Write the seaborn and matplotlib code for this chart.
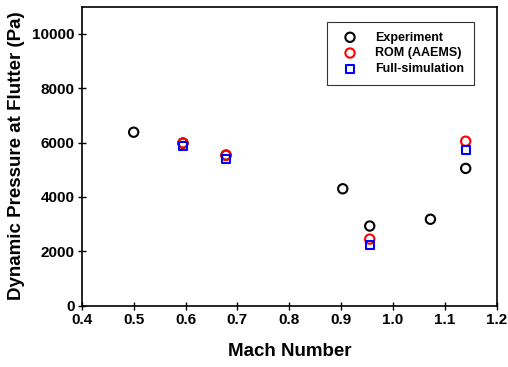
import matplotlib
matplotlib.use("Agg")
import matplotlib.pyplot as plt
import seaborn as sns
import pandas as pd

exp_mach = [0.5, 0.595, 0.678, 0.903, 0.955, 1.072, 1.14]
exp_q = [6380, 5980, 5540, 4300, 2930, 3180, 5050]
rom_mach = [0.595, 0.678, 0.955, 1.14]
rom_q = [5980, 5530, 2450, 6050]
full_mach = [0.595, 0.678, 0.955, 1.14]
full_q = [5870, 5410, 2230, 5720]

sns.set_style("ticks")
plt.rcParams['font.family'] = ['Liberation Sans', 'DejaVu Sans']
plt.rcParams['font.weight'] = 'bold'
plt.rcParams['text.color'] = 'black'
plt.rcParams['axes.labelcolor'] = 'black'
plt.rcParams['xtick.color'] = 'black'
plt.rcParams['ytick.color'] = 'black'

fig = plt.figure(figsize=(5.08, 3.67), dpi=100)
ax = fig.add_axes([0.161, 0.167, 0.817, 0.815])

common = dict(s=45, linewidth=1.5, ax=ax)
sns.scatterplot(x=exp_mach, y=exp_q, marker='o', facecolor='none', edgecolor='black',
                label='Experiment', zorder=3, **common)
sns.scatterplot(x=rom_mach, y=rom_q, marker='o', facecolor='none', edgecolor='red',
                label='ROM (AAEMS)', zorder=4, **common)
sns.scatterplot(x=full_mach, y=full_q, marker='s', facecolor='none', edgecolor='blue',
                label='Full-simulation', zorder=5, s=34, linewidth=1.5, ax=ax)

ax.set_xlim(0.4, 1.2)
ax.set_ylim(0, 11000)
ax.set_xticks([0.4, 0.5, 0.6, 0.7, 0.8, 0.9, 1.0, 1.1, 1.2])
ax.set_xticklabels(['0.4', '0.5', '0.6', '0.7', '0.8', '0.9', '1.0', '1.1', '1.2'])
ax.set_yticks([0, 2000, 4000, 6000, 8000, 10000])
ax.tick_params(direction='inout', length=6, width=1, labelsize=11, color='black',
               labelcolor='black', pad=2)
for lab in ax.get_xticklabels() + ax.get_yticklabels():
    lab.set_fontweight('bold')
for sp in ax.spines.values():
    sp.set_linewidth(1.2)
    sp.set_color('black')
ax.set_xlabel('Mach Number', fontsize=13.5, fontweight='bold', labelpad=12, color='black')
ax.set_ylabel('Dynamic Pressure at Flutter (Pa)', fontsize=13.5, fontweight='bold', labelpad=5,
              color='black')

leg = ax.legend(loc='upper right', bbox_to_anchor=(0.945, 0.95), frameon=True, fancybox=False,
                edgecolor='black', fontsize=9, borderpad=0.8, handletextpad=1.0, handlelength=2.0,
                labelspacing=0.3, borderaxespad=0)
leg.get_frame().set_linewidth(0.8)
for t in leg.get_texts():
    t.set_fontweight('bold')
    t.set_color('black')

fig.savefig('out.png', dpi=100)
